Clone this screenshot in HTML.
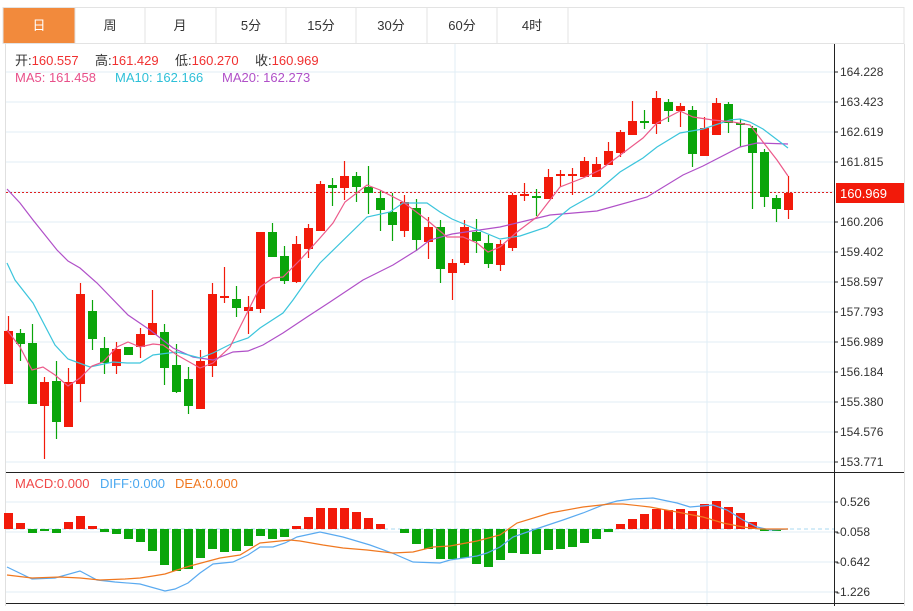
<!DOCTYPE html>
<html><head><meta charset="utf-8"><style>
body{margin:0;background:#fff;width:913px;height:606px;overflow:hidden;font-family:"Liberation Sans","Noto Sans CJK SC",sans-serif}
</style></head><body>
<svg width="913" height="606" xmlns="http://www.w3.org/2000/svg" font-family="Liberation Sans, Noto Sans CJK SC, sans-serif">
<rect x="0" y="0" width="913" height="606" fill="#fff"/>
<rect x="3" y="7.5" width="901" height="36" fill="#fff" stroke="#e3e3e3"/>
<rect x="3.5" y="8" width="71" height="35" fill="#f28a3c"/>
<g stroke="#e3e3e3"><line x1="75" y1="8" x2="75" y2="43"/><line x1="145" y1="8" x2="145" y2="43"/><line x1="216" y1="8" x2="216" y2="43"/><line x1="286" y1="8" x2="286" y2="43"/><line x1="356" y1="8" x2="356" y2="43"/><line x1="427" y1="8" x2="427" y2="43"/><line x1="497" y1="8" x2="497" y2="43"/><line x1="568" y1="8" x2="568" y2="43"/></g>
<g font-size="13" text-anchor="middle" fill="#333"><text x="39" y="30" fill="#fff">日</text><text x="110" y="30">周</text><text x="180" y="30">月</text><text x="251" y="30">5分</text><text x="321" y="30">15分</text><text x="391" y="30">30分</text><text x="462" y="30">60分</text><text x="532" y="30">4时</text></g>
<line x1="5.5" y1="44" x2="5.5" y2="606" stroke="#e0e0e0"/>
<line x1="904.5" y1="44" x2="904.5" y2="606" stroke="#e0e0e0"/>
<g stroke="#e1edf5">
<line x1="6" y1="72" x2="834" y2="72"/><line x1="6" y1="102" x2="834" y2="102"/><line x1="6" y1="132" x2="834" y2="132"/><line x1="6" y1="162" x2="834" y2="162"/><line x1="6" y1="192" x2="834" y2="192"/><line x1="6" y1="222" x2="834" y2="222"/><line x1="6" y1="252" x2="834" y2="252"/><line x1="6" y1="282" x2="834" y2="282"/><line x1="6" y1="312" x2="834" y2="312"/><line x1="6" y1="342" x2="834" y2="342"/><line x1="6" y1="372" x2="834" y2="372"/><line x1="6" y1="402" x2="834" y2="402"/><line x1="6" y1="432" x2="834" y2="432"/><line x1="6" y1="462" x2="834" y2="462"/>
<line x1="6" y1="502" x2="834" y2="502"/><line x1="6" y1="532" x2="834" y2="532"/><line x1="6" y1="562" x2="834" y2="562"/><line x1="6" y1="592" x2="834" y2="592"/>
<line x1="455" y1="44" x2="455" y2="606"/><line x1="707" y1="44" x2="707" y2="606"/>
</g>
<line x1="6" y1="472.5" x2="904" y2="472.5" stroke="#222"/>
<line x1="6" y1="603.5" x2="904" y2="603.5" stroke="#222"/>
<line x1="834.5" y1="44" x2="834.5" y2="606" stroke="#222"/>
<g stroke="#222"><line x1="834" y1="72" x2="838" y2="72"/><line x1="834" y1="102" x2="838" y2="102"/><line x1="834" y1="132" x2="838" y2="132"/><line x1="834" y1="162" x2="838" y2="162"/><line x1="834" y1="222" x2="838" y2="222"/><line x1="834" y1="252" x2="838" y2="252"/><line x1="834" y1="282" x2="838" y2="282"/><line x1="834" y1="312" x2="838" y2="312"/><line x1="834" y1="342" x2="838" y2="342"/><line x1="834" y1="372" x2="838" y2="372"/><line x1="834" y1="402" x2="838" y2="402"/><line x1="834" y1="432" x2="838" y2="432"/><line x1="834" y1="462" x2="838" y2="462"/><line x1="834" y1="502" x2="838" y2="502"/><line x1="834" y1="532" x2="838" y2="532"/><line x1="834" y1="562" x2="838" y2="562"/><line x1="834" y1="592" x2="838" y2="592"/></g>
<g font-size="12" fill="#333">
<text x="840" y="76">164.228</text><text x="840" y="106">163.423</text><text x="840" y="136">162.619</text><text x="840" y="166">161.815</text><text x="840" y="226">160.206</text><text x="840" y="256">159.402</text><text x="840" y="286">158.597</text><text x="840" y="316">157.793</text><text x="840" y="346">156.989</text><text x="840" y="376">156.184</text><text x="840" y="406">155.380</text><text x="840" y="436">154.576</text><text x="840" y="466">153.771</text>
<text x="840" y="506">0.526</text><text x="836" y="536">-0.058</text><text x="836" y="566">-0.642</text><text x="836" y="596">-1.226</text>
</g>
<line x1="6" y1="192.5" x2="834" y2="192.5" stroke="#e02020" stroke-dasharray="2,2"/>
<rect x="836" y="183" width="68" height="20" fill="#f21a0a"/>
<text x="840" y="198" font-size="13" fill="#fff">160.969</text>
<g font-size="13"><text x="15" y="65" fill="#333">开:<tspan fill="#f03030">160.557</tspan></text><text x="95" y="65" fill="#333">高:<tspan fill="#f03030">161.429</tspan></text><text x="175" y="65" fill="#333">低:<tspan fill="#f03030">160.270</tspan></text><text x="255" y="65" fill="#333">收:<tspan fill="#f03030">160.969</tspan></text>
<text x="15" y="82" fill="#e8508a">MA5: 161.458</text><text x="115" y="82" fill="#2ec0d8">MA10: 162.166</text><text x="222" y="82" fill="#b050c8">MA20: 162.273</text>
<text x="15" y="488" fill="#f04848">MACD:0.000</text><text x="100" y="488" fill="#4aa8f0">DIFF:0.000</text><text x="175" y="488" fill="#f07820">DEA:0.000</text></g>
<g stroke="#f21a0a" stroke-width="1.2" fill="#f21a0a">
<line x1="8.5" y1="316" x2="8.5" y2="384"/><rect x="4" y="331" width="9" height="53" stroke="none"/>
<line x1="44.5" y1="377" x2="44.5" y2="459"/><rect x="40" y="382" width="9" height="24" stroke="none"/>
<line x1="68.5" y1="368" x2="68.5" y2="427"/><rect x="64" y="382" width="9" height="45" stroke="none"/>
<line x1="80.5" y1="283" x2="80.5" y2="402"/><rect x="76" y="294" width="9" height="90" stroke="none"/>
<line x1="116.5" y1="342" x2="116.5" y2="374"/><rect x="112" y="349" width="9" height="17" stroke="none"/>
<line x1="140.5" y1="328" x2="140.5" y2="358"/><rect x="136" y="334" width="9" height="13" stroke="none"/>
<line x1="152.5" y1="290" x2="152.5" y2="335"/><rect x="148" y="323" width="9" height="12" stroke="none"/>
<line x1="200.5" y1="350" x2="200.5" y2="409"/><rect x="196" y="361" width="9" height="48" stroke="none"/>
<line x1="212.5" y1="283" x2="212.5" y2="377"/><rect x="208" y="294" width="9" height="72" stroke="none"/>
<line x1="224.5" y1="267" x2="224.5" y2="303"/><rect x="220" y="296" width="9" height="2" stroke="none"/>
<line x1="248.5" y1="296" x2="248.5" y2="334"/><rect x="244" y="307" width="9" height="4" stroke="none"/>
<line x1="260.5" y1="232" x2="260.5" y2="313"/><rect x="256" y="232" width="9" height="77" stroke="none"/>
<line x1="296.5" y1="236" x2="296.5" y2="283"/><rect x="292" y="244" width="9" height="38" stroke="none"/>
<line x1="308.5" y1="224" x2="308.5" y2="258"/><rect x="304" y="228" width="9" height="21" stroke="none"/>
<line x1="320.5" y1="181" x2="320.5" y2="231"/><rect x="316" y="184" width="9" height="47" stroke="none"/>
<line x1="344.5" y1="161" x2="344.5" y2="200"/><rect x="340" y="176" width="9" height="12" stroke="none"/>
<line x1="404.5" y1="195" x2="404.5" y2="237"/><rect x="400" y="202" width="9" height="29" stroke="none"/>
<line x1="428.5" y1="217" x2="428.5" y2="259"/><rect x="424" y="227" width="9" height="15" stroke="none"/>
<line x1="452.5" y1="259" x2="452.5" y2="300"/><rect x="448" y="263" width="9" height="10" stroke="none"/>
<line x1="464.5" y1="220" x2="464.5" y2="265"/><rect x="460" y="227" width="9" height="36" stroke="none"/>
<line x1="500.5" y1="240" x2="500.5" y2="271"/><rect x="496" y="244" width="9" height="21" stroke="none"/>
<line x1="512.5" y1="193" x2="512.5" y2="251"/><rect x="508" y="195" width="9" height="53" stroke="none"/>
<line x1="524.5" y1="183" x2="524.5" y2="201"/><rect x="520" y="194" width="9" height="2" stroke="none"/>
<line x1="548.5" y1="169" x2="548.5" y2="199"/><rect x="544" y="177" width="9" height="22" stroke="none"/>
<line x1="560.5" y1="170" x2="560.5" y2="187"/><rect x="556" y="174" width="9" height="2" stroke="none"/>
<line x1="572.5" y1="168" x2="572.5" y2="195"/><rect x="568" y="174" width="9" height="2" stroke="none"/>
<line x1="584.5" y1="157" x2="584.5" y2="177"/><rect x="580" y="161" width="9" height="16" stroke="none"/>
<line x1="596.5" y1="157" x2="596.5" y2="177"/><rect x="592" y="164" width="9" height="13" stroke="none"/>
<line x1="608.5" y1="142" x2="608.5" y2="165"/><rect x="604" y="151" width="9" height="14" stroke="none"/>
<line x1="620.5" y1="130" x2="620.5" y2="157"/><rect x="616" y="132" width="9" height="21" stroke="none"/>
<line x1="632.5" y1="101" x2="632.5" y2="135"/><rect x="628" y="121" width="9" height="14" stroke="none"/>
<line x1="656.5" y1="91" x2="656.5" y2="134"/><rect x="652" y="98" width="9" height="26" stroke="none"/>
<line x1="680.5" y1="103" x2="680.5" y2="127"/><rect x="676" y="106" width="9" height="5" stroke="none"/>
<line x1="704.5" y1="117" x2="704.5" y2="156"/><rect x="700" y="128" width="9" height="28" stroke="none"/>
<line x1="716.5" y1="98" x2="716.5" y2="135"/><rect x="712" y="103" width="9" height="32" stroke="none"/>
<line x1="788.5" y1="176" x2="788.5" y2="219"/><rect x="784" y="193" width="9" height="17" stroke="none"/>
</g>
<g stroke="#0aa50a" stroke-width="1.2" fill="#0aa50a">
<line x1="20.5" y1="329" x2="20.5" y2="361"/><rect x="16" y="333" width="9" height="11" stroke="none"/>
<line x1="32.5" y1="324" x2="32.5" y2="404"/><rect x="28" y="343" width="9" height="61" stroke="none"/>
<line x1="56.5" y1="361" x2="56.5" y2="439"/><rect x="52" y="381" width="9" height="41" stroke="none"/>
<line x1="92.5" y1="300" x2="92.5" y2="350"/><rect x="88" y="311" width="9" height="28" stroke="none"/>
<line x1="104.5" y1="337" x2="104.5" y2="374"/><rect x="100" y="348" width="9" height="15" stroke="none"/>
<rect x="124" y="347" width="9" height="8" stroke="none"/>
<line x1="164.5" y1="324" x2="164.5" y2="385"/><rect x="160" y="332" width="9" height="36" stroke="none"/>
<line x1="176.5" y1="344" x2="176.5" y2="393"/><rect x="172" y="365" width="9" height="27" stroke="none"/>
<line x1="188.5" y1="367" x2="188.5" y2="414"/><rect x="184" y="379" width="9" height="27" stroke="none"/>
<line x1="236.5" y1="286" x2="236.5" y2="317"/><rect x="232" y="299" width="9" height="9" stroke="none"/>
<line x1="272.5" y1="223" x2="272.5" y2="257"/><rect x="268" y="232" width="9" height="25" stroke="none"/>
<line x1="284.5" y1="246" x2="284.5" y2="284"/><rect x="280" y="256" width="9" height="25" stroke="none"/>
<line x1="332.5" y1="178" x2="332.5" y2="206"/><rect x="328" y="185" width="9" height="3" stroke="none"/>
<line x1="356.5" y1="172" x2="356.5" y2="202"/><rect x="352" y="176" width="9" height="11" stroke="none"/>
<line x1="368.5" y1="166" x2="368.5" y2="214"/><rect x="364" y="187" width="9" height="6" stroke="none"/>
<line x1="380.5" y1="190" x2="380.5" y2="231"/><rect x="376" y="198" width="9" height="12" stroke="none"/>
<line x1="392.5" y1="193" x2="392.5" y2="241"/><rect x="388" y="212" width="9" height="13" stroke="none"/>
<line x1="416.5" y1="199" x2="416.5" y2="251"/><rect x="412" y="208" width="9" height="32" stroke="none"/>
<line x1="440.5" y1="220" x2="440.5" y2="283"/><rect x="436" y="227" width="9" height="42" stroke="none"/>
<line x1="476.5" y1="219" x2="476.5" y2="253"/><rect x="472" y="232" width="9" height="9" stroke="none"/>
<line x1="488.5" y1="235" x2="488.5" y2="268"/><rect x="484" y="243" width="9" height="21" stroke="none"/>
<line x1="536.5" y1="189" x2="536.5" y2="216"/><rect x="532" y="196" width="9" height="2" stroke="none"/>
<line x1="644.5" y1="110" x2="644.5" y2="129"/><rect x="640" y="121" width="9" height="2" stroke="none"/>
<line x1="668.5" y1="99" x2="668.5" y2="122"/><rect x="664" y="102" width="9" height="9" stroke="none"/>
<line x1="692.5" y1="106" x2="692.5" y2="167"/><rect x="688" y="110" width="9" height="44" stroke="none"/>
<line x1="728.5" y1="102" x2="728.5" y2="133"/><rect x="724" y="104" width="9" height="19" stroke="none"/>
<line x1="740.5" y1="119" x2="740.5" y2="147"/><rect x="736" y="123" width="9" height="2" stroke="none"/>
<line x1="752.5" y1="126" x2="752.5" y2="209"/><rect x="748" y="128" width="9" height="25" stroke="none"/>
<line x1="764.5" y1="149" x2="764.5" y2="207"/><rect x="760" y="152" width="9" height="45" stroke="none"/>
<line x1="776.5" y1="195" x2="776.5" y2="222"/><rect x="772" y="198" width="9" height="11" stroke="none"/>
</g>
<g fill="none" stroke-width="1.2">
<polyline stroke="#b050c8" points="7,189 20,203 33,220 57,250 68,261 80,268 97,283 128,315 150,330 173,348 193,357 213,360 233,352 248,351 263,345 283,333 307,317 330,302 363,280 393,265 417,250 430,240 452,234 500,227 550,215 597,211 647,197 683,175 703,166 740,147 757,143 788,144"/>
<polyline stroke="#3cc5dc" points="7,263 15,280 33,303 55,345 68,359 90,367 113,362 127,363 140,363 153,355 177,352 200,358 213,353 233,343 248,338 260,328 283,313 293,300 307,280 320,263 367,217 390,212 403,203 427,203 440,212 452,219 500,239 520,236 547,227 570,208 593,195 620,172 643,158 657,147 680,133 703,129 730,120 740,119 750,122 763,129 788,148"/>
<polyline stroke="#ec5a8a" points="7,330 20,347 32,370 43,367 55,375 68,386 80,378 92,366 103,362 117,347 128,342 140,347 153,344 163,345 177,355 200,368 213,363 230,347 250,307 260,287 273,278 283,277 300,260 320,238 333,223 345,202 367,185 380,190 403,202 427,220 447,237 463,237 477,243 488,252 500,247 517,232 537,217 560,187 583,178 600,170 623,153 643,138 657,123 680,111 693,117 713,120 733,122 750,125 763,142 777,160 788,176"/>
</g>
<line x1="6" y1="529" x2="834" y2="529" stroke="#a8d8f0" stroke-dasharray="4,3"/>
<g fill="#f21a0a">
<rect x="4" y="513" width="9" height="16"/><rect x="16" y="523" width="9" height="6"/><rect x="64" y="522" width="9" height="7"/><rect x="76" y="516" width="9" height="13"/><rect x="88" y="526" width="9" height="3"/>
<rect x="292" y="526" width="9" height="3"/><rect x="304" y="517" width="9" height="12"/><rect x="316" y="508" width="9" height="21"/><rect x="328" y="508" width="9" height="21"/><rect x="340" y="508" width="9" height="21"/><rect x="352" y="512" width="9" height="17"/><rect x="364" y="518" width="9" height="11"/><rect x="376" y="524" width="9" height="5"/>
<rect x="616" y="524" width="9" height="5"/><rect x="628" y="519" width="9" height="10"/><rect x="640" y="514" width="9" height="15"/><rect x="652" y="509" width="9" height="20"/><rect x="664" y="510" width="9" height="19"/><rect x="676" y="509" width="9" height="20"/><rect x="688" y="511" width="9" height="18"/><rect x="700" y="504" width="9" height="25"/><rect x="712" y="501" width="9" height="28"/><rect x="724" y="507" width="9" height="22"/><rect x="736" y="513" width="9" height="16"/><rect x="748" y="522" width="9" height="7"/>
</g>
<g fill="#0aa50a">
<rect x="28" y="529" width="9" height="4"/><rect x="40" y="529" width="9" height="2"/><rect x="52" y="529" width="9" height="4"/>
<rect x="100" y="529" width="9" height="3"/><rect x="112" y="529" width="9" height="5"/><rect x="124" y="529" width="9" height="10"/><rect x="136" y="529" width="9" height="13"/><rect x="148" y="529" width="9" height="22"/><rect x="160" y="529" width="9" height="36"/><rect x="172" y="529" width="9" height="42"/><rect x="184" y="529" width="9" height="40"/><rect x="196" y="529" width="9" height="29"/><rect x="208" y="529" width="9" height="20"/><rect x="220" y="529" width="9" height="23"/><rect x="232" y="529" width="9" height="22"/><rect x="244" y="529" width="9" height="17"/><rect x="256" y="529" width="9" height="7"/><rect x="268" y="529" width="9" height="10"/><rect x="280" y="529" width="9" height="8"/>
<rect x="400" y="529" width="9" height="4"/><rect x="412" y="529" width="9" height="15"/><rect x="424" y="529" width="9" height="20"/><rect x="436" y="529" width="9" height="30"/><rect x="448" y="529" width="9" height="30"/><rect x="460" y="529" width="9" height="29"/><rect x="472" y="529" width="9" height="35"/><rect x="484" y="529" width="9" height="38"/><rect x="496" y="529" width="9" height="31"/><rect x="508" y="529" width="9" height="24"/><rect x="520" y="529" width="9" height="25"/><rect x="532" y="529" width="9" height="25"/><rect x="544" y="529" width="9" height="21"/><rect x="556" y="529" width="9" height="20"/><rect x="568" y="529" width="9" height="18"/><rect x="580" y="529" width="9" height="14"/><rect x="592" y="529" width="9" height="10"/><rect x="604" y="529" width="9" height="3"/>
<rect x="760" y="529" width="9" height="2"/><rect x="772" y="529" width="9" height="2"/>
</g>
<g fill="none" stroke-width="1.2">
<polyline stroke="#5aaaf0" points="7,567 32,579 55,578 80,571 97,580 115,582 140,584 165,591 175,589 188,583 200,573 213,564 233,562 248,555 260,547 273,547 285,543 297,537 320,532 343,537 370,545 392,553 413,562 440,563 450,560 477,556 487,553 500,547 513,537 533,530 563,520 583,513 603,505 617,501 633,499 653,498 677,503 690,507 713,505 727,510 743,520 757,527 770,530 788,529"/>
<polyline stroke="#f07820" points="7,575 32,578 60,577 80,578 100,580 125,579 140,578 153,576 165,574 177,570 190,566 205,562 220,558 240,555 260,543 290,540 300,541 323,545 343,548 367,550 393,553 413,552 433,547 450,546 477,541 500,535 517,523 550,513 583,507 610,504 623,504 650,507 677,512 703,517 723,523 743,527 760,529 788,529"/>
</g>
</svg>
</body></html>
